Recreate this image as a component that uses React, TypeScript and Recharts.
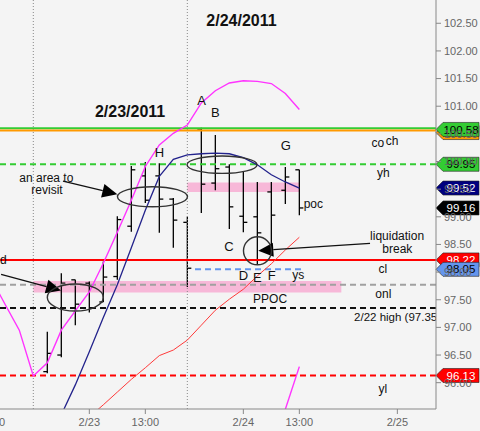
import React from 'react';
import {
  ComposedChart,
  Bar,
  Line,
  XAxis,
  YAxis,
  ReferenceLine,
  ReferenceArea,
  ReferenceDot,
} from 'recharts';

// one slot = one bar on the session axis
const slots = [-3, -2, -1, 0, 1, 2, 3, 4, 5, 6, 7, 8, 9, 10, 11, 12, 13, 14, 15, 16, 17, 18, 19];

const barSlots = [1, 2, 3, 4, 5, 6, 7, 8, 9, 10, 11, 12, 13, 14, 15, 16, 17, 18, 19];
const opens = [96.2, 96.5, 97.86, 97.8, 97.46, 97.92, 98.83, 99.74, 99.74, 99.32, 98.9, 100.57, 99.61, 99.9, 99.01, 99.0, 99.45, 99.48, 99.85];
const highs = [96.92, 97.98, 97.86, 97.83, 98.19, 99.01, 99.92, 99.99, 99.97, 99.34, 99.0, 100.61, 100.48, 99.95, 99.81, 99.63, 99.63, 99.9, 99.85];
const lows = [96.17, 96.46, 97.04, 97.27, 97.46, 97.86, 98.73, 99.25, 98.71, 98.44, 97.73, 99.07, 99.48, 98.78, 98.72, 98.13, 98.35, 99.23, 99.03];
const closes = [96.53, 97.8, 97.42, 97.35, 97.91, 98.95, 99.85, 99.3, 99.32, 98.94, 98.07, 99.59, 99.87, 99.18, 98.9, 98.71, 99.03, 99.72, 99.16];

// magenta band, slots -3..19
const upperBand = [97.88, 97.41, 96.95, 96.12, 96.36, 96.95, 97.3, 97.64, 98.16, 98.72, 99.3, 99.91, 100.3, 100.51, 100.66, 101.06, 101.28, 101.42, 101.46, 101.45, 101.41, 101.23, 100.94];
// magenta piece at the bottom, from slot 18
const lowerStart = 18;
const lowerBand = [95.52, 96.29];
// navy average, from slot 2
const avgStart = 2;
const avgLine = [95.42, 95.96, 96.56, 97.18, 97.77, 98.44, 99.12, 99.73, 100.04, 100.12, 100.14, 100.15, 100.14, 100.07, 99.94, 99.76, 99.63, 99.52];
// thin red line, from slot 4
const trendStart = 4;
const trendLine = [95.38, 95.6, 95.83, 96.06, 96.27, 96.49, 96.59, 96.77, 97.04, 97.31, 97.51, 97.69, 97.93, 98.15, 98.4, 98.63];

// levels
const chLevel = 100.6;
const coLevel = 100.56;
const yhLevel = 99.95;
const clLevel = 98.22;
const ysLevel = 98.05;
const onlLevel = 97.77;
const high222 = 97.35;
const ylLevel = 96.13;
const pocBand = [99.45, 99.62];
const ppocBand = [97.63, 97.84];

const tickSlots = [-3, 4, 8, 15, 19, 26];
const tickLabels = ['13:00', '2/23', '13:00', '2/24', '13:00', '2/25'];
const yTicks = [96, 96.5, 97, 97.5, 98, 98.5, 99, 99.5, 100, 100.5, 101, 101.5, 102, 102.5];

const data = slots.map((k, i) => {
  const b = barSlots.indexOf(k);
  return {
    k,
    range: b >= 0 ? [lows[b], highs[b]] : null,
    open: b >= 0 ? opens[b] : null,
    close: b >= 0 ? closes[b] : null,
    upper: upperBand[i],
    lower: k >= lowerStart ? lowerBand[k - lowerStart] : null,
    avg: k >= avgStart ? avgLine[k - avgStart] : null,
    trend: k >= trendStart ? trendLine[k - trendStart] : null,
  };
});

const FONT = '"Liberation Sans", Arial, sans-serif';

const OhlcShape = (props: any) => {
  const { x, y, width, height, payload } = props;
  if (!payload || !payload.range) return null;
  const cx = x + width / 2;
  const top = Math.min(y, y + height);
  const h = Math.abs(height);
  const [lo, hi] = payload.range;
  const py = (v: number) => top + ((hi - v) / (hi - lo)) * h;
  return (
    <g stroke="#000" strokeWidth={1.3}>
      <line x1={cx} x2={cx} y1={top} y2={top + h} />
      <line x1={cx - 4} x2={cx} y1={py(payload.open)} y2={py(payload.open)} />
      <line x1={cx} x2={cx + 4} y1={py(payload.close)} y2={py(payload.close)} />
    </g>
  );
};

const tag = (text: string, fill: string, color: string, dy = 0) => (props: any) => {
  const vb = props.viewBox;
  const x0 = vb.x + vb.width;
  const cy = vb.y + dy;
  const pts = `${x0},${cy} ${x0 + 7},${cy - 7} ${x0 + 43},${cy - 7} ${x0 + 43},${cy + 7} ${x0 + 7},${cy + 7}`;
  return (
    <g>
      <polygon points={pts} fill={fill} stroke="#222" strokeWidth={0.6} />
      <text x={x0 + 25} y={cy} dy="0.36em" textAnchor="middle" fontSize={11.5} fill={color} fontFamily={FONT}>
        {text}
      </text>
    </g>
  );
};

const arrowShape = (p: any) => {
  const { x1, y1, x2, y2 } = p;
  const dx = x2 - x1;
  const dy = y2 - y1;
  const len = Math.hypot(dx, dy) || 1;
  const ux = dx / len;
  const uy = dy / len;
  const bx = x2 - ux * 15;
  const by = y2 - uy * 15;
  const pts = `${x2},${y2} ${bx - uy * 7},${by + ux * 7} ${bx + uy * 7},${by - ux * 7}`;
  return (
    <g>
      <line x1={x1} y1={y1} x2={bx} y2={by} stroke="#111" strokeWidth={1.3} />
      <polygon points={pts} fill="#000" />
    </g>
  );
};

const note = (k: number, p: number, text: string, opts: { size?: number; bold?: boolean; anchor?: string } = {}) => (
  <ReferenceDot
    x={k}
    y={p}
    shape={(s: any) => (
      <text
        x={s.cx}
        y={s.cy}
        dy="0.36em"
        textAnchor={opts.anchor ?? 'middle'}
        fontSize={opts.size ?? 12}
        fontWeight={opts.bold ? 700 : 400}
        fill="#111"
        fontFamily={FONT}
      >
        {text}
      </text>
    )}
  />
);

const ring = (k: number, p: number, rx: number, ry: number) => (
  <ReferenceDot
    x={k}
    y={p}
    shape={(s: any) => <ellipse cx={s.cx} cy={s.cy} rx={rx} ry={ry} fill="none" stroke="#333" strokeWidth={1.4} />}
  />
);

export default function App() {
  return (
    <div style={{ width: 480, height: 431, overflow: 'hidden', background: '#f4f4f4', fontFamily: FONT }}>
      <style>{'body{margin:0}'}</style>
      <ComposedChart width={480} height={431} data={data} margin={{ top: 0, right: 0, bottom: 0, left: -22.7 }}>
        <XAxis
          type="number"
          dataKey="k"
          domain={[-4, 28.76]}
          allowDataOverflow
          ticks={tickSlots}
          interval={0}
          tickFormatter={(v) => tickLabels[tickSlots.indexOf(v)] ?? ''}
          height={22}
          stroke="#888"
          tickSize={5}
          tickMargin={4}
          tick={{ fill: '#666', fontSize: 11 }}
        />
        <YAxis
          orientation="right"
          width={44}
          domain={[95.524, 102.921]}
          allowDataOverflow
          ticks={yTicks}
          interval={0}
          tickFormatter={(v) => v.toFixed(2)}
          stroke="#888"
          tickSize={5}
          tickMargin={3}
          tick={{ fill: '#666', fontSize: 11 }}
        />

        <ReferenceArea x1={11} x2={19} y1={pocBand[0]} y2={pocBand[1]} fill="#f7b8d8" fillOpacity={1} stroke="none" />
        <ReferenceArea x1={0} x2={22} y1={ppocBand[0]} y2={ppocBand[1]} fill="#f7b8d8" fillOpacity={1} stroke="none" />

        <ReferenceLine x={0} stroke="#888" strokeDasharray="1 2" />
        <ReferenceLine x={11} stroke="#888" strokeDasharray="1 2" />

        <ReferenceLine y={chLevel} stroke="#33cc33" strokeWidth={2} />
        <ReferenceLine y={coLevel} stroke="#ff9900" strokeWidth={2} />
        <ReferenceLine y={yhLevel} stroke="#33cc33" strokeWidth={2} strokeDasharray="6 4" />
        <ReferenceLine y={clLevel} stroke="#ff0000" strokeWidth={2} />
        <ReferenceLine segment={[{ x: 11.55, y: ysLevel }, { x: 19.4, y: ysLevel }]} stroke="#6495ed" strokeWidth={2} strokeDasharray="6 4" />
        <ReferenceLine y={onlLevel} stroke="#a0a0a0" strokeWidth={2} strokeDasharray="6 4" />
        <ReferenceLine y={high222} stroke="#111" strokeWidth={2} strokeDasharray="6 4" />
        <ReferenceLine y={ylLevel} stroke="#ff0000" strokeWidth={2} strokeDasharray="6 4" />

        <Bar dataKey="range" barSize={8} shape={OhlcShape} isAnimationActive={false} />

        <Line type="linear" dataKey="trend" stroke="#ff3a3a" strokeWidth={1} dot={false} activeDot={false} isAnimationActive={false} />
        <Line type="linear" dataKey="avg" stroke="#23238c" strokeWidth={1.3} dot={false} activeDot={false} isAnimationActive={false} />
        <Line type="linear" dataKey="upper" stroke="#ff33ff" strokeWidth={1.4} dot={false} activeDot={false} isAnimationActive={false} />
        <Line type="linear" dataKey="lower" stroke="#ff33ff" strokeWidth={1.4} dot={false} activeDot={false} isAnimationActive={false} />

        {ring(8.51, 99.363, 35, 10)}
        {ring(13.48, 99.942, 35, 8.7)}
        {ring(3.0, 97.54, 28, 13.5)}
        {ring(16.01, 98.385, 14, 14)}

        <ReferenceLine segment={[{ x: 2.12, y: 99.647 }, { x: 6.0, y: 99.407 }]} shape={arrowShape} />
        <ReferenceLine segment={[{ x: -2.3, y: 97.96 }, { x: 1.98, y: 97.667 }]} shape={arrowShape} />
        <ReferenceLine segment={[{ x: 24.05, y: 98.52 }, { x: 16.07, y: 98.387 }]} shape={arrowShape} />

        {note(14.87, 102.559, '2/24/2011', { size: 16, bold: true })}
        {note(6.91, 100.913, '2/23/2011', { size: 16, bold: true })}
        {note(12.01, 101.112, 'A', { size: 13 })}
        {note(13.0, 100.895, 'B', { size: 13 })}
        {note(9.0, 100.159, 'H', { size: 13 })}
        {note(18.03, 100.286, 'G', { size: 13 })}
        {note(13.98, 98.459, 'C', { size: 13 })}
        {note(15.0, 97.948, 'D', { size: 13 })}
        {note(16.0, 97.899, 'E', { size: 13 })}
        {note(17.03, 97.948, 'F', { size: 13 })}
        {note(18.93, 97.948, 'ys')}
        {note(16.91, 97.526, 'PPOC')}
        {note(24.6, 100.34, 'co')}
        {note(25.62, 100.371, 'ch')}
        {note(25.0, 99.805, 'yh')}
        {note(20.0, 99.244, 'poc')}
        {note(24.96, 98.056, 'cl')}
        {note(25.0, 97.604, 'onl')}
        {note(24.96, 95.886, 'yl')}
        {note(25.98, 98.658, 'liquidation')}
        {note(26.0, 98.43, 'break')}
        {note(0.93, 99.714, 'an area to')}
        {note(0.98, 99.485, 'revisit')}
        {note(-1.91, 98.231, 'd', { anchor: 'end' })}
        <ReferenceLine
          segment={[{ x: 22.91, y: 97.194 }, { x: 28.76, y: 97.194 }]}
          shape={(p: any) => (
            <g>
              <clipPath id="clip-222">
                <rect x={p.x1 - 2} y={p.y1 - 10} width={p.x2 - p.x1 + 2} height={20} />
              </clipPath>
              <text x={p.x1} y={p.y1} dy="0.36em" fontSize={11.5} fill="#111" fontFamily={FONT} clipPath="url(#clip-222)">
                2/22 high (97.35)
              </text>
            </g>
          )}
        />

        <ReferenceLine y={coLevel} stroke="none" label={tag('', '#ff9900', '#000', 2)} />
        <ReferenceLine y={100.58} stroke="none" label={tag('100.58', '#33cc33', '#000')} />
        <ReferenceLine y={99.95} stroke="none" label={tag('99.95', '#33cc33', '#000')} />
        <ReferenceLine y={99.52} stroke="none" label={tag('99.52', '#000080', '#fff')} />
        <ReferenceLine y={99.16} stroke="none" label={tag('99.16', '#000', '#fff')} />
        <ReferenceLine y={98.22} stroke="none" label={tag('98.22', '#ff0000', '#fff')} />
        <ReferenceLine y={98.05} stroke="none" label={tag('98.05', '#6495ed', '#000')} />
        <ReferenceLine y={96.13} stroke="none" label={tag('96.13', '#ff0000', '#fff')} />
      </ComposedChart>
    </div>
  );
}
